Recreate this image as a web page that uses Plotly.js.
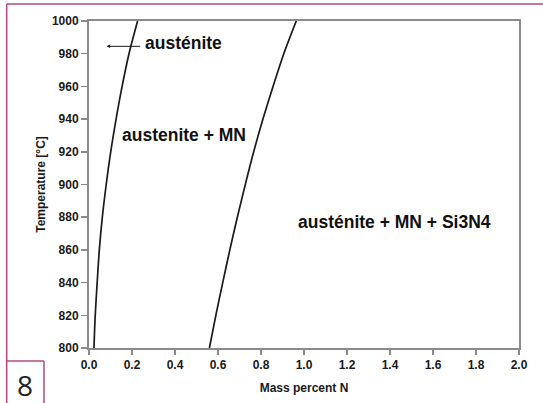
<!DOCTYPE html>
<html>
<head>
<meta charset="utf-8">
<script src="https://cdn.plot.ly/plotly-3.0.1.min.js"></script>
<style>
html,body{margin:0;padding:0;background:#fff;}
#chart{width:543px;height:403px;}
</style>
</head>
<body>
<div id="chart"></div>
<script>
// Temperatures (°C) along each phase boundary
var temperature = [800, 820, 840, 860, 880, 900, 920, 940, 960, 980, 1000];
// Boundary austénite | austenite + MN (mass percent N)
var boundary1 = [0.023, 0.029, 0.038, 0.048, 0.062, 0.080, 0.101, 0.126, 0.154, 0.186, 0.226];
// Boundary austenite + MN | austénite + MN + Si3N4 (mass percent N)
var boundary2 = [0.560, 0.590, 0.622, 0.655, 0.690, 0.727, 0.766, 0.809, 0.856, 0.906, 0.964];

var xTickVals = [0, 0.2, 0.4, 0.6, 0.8, 1.0, 1.2, 1.4, 1.6, 1.8, 2.0];
var yTickVals = [800, 820, 840, 860, 880, 900, 920, 940, 960, 980, 1000];

var W = 543, H = 403;
var L = 89, R = 519, T = 21, B = 348;
function px(x){ return (x - L) / (R - L); }
function py(y){ return (B - y) / (B - T); }

var lineStyle = {color: '#1a1a1a', width: 1.7, shape: 'spline', smoothing: 0.8};
var traces = [
  {x: boundary1, y: temperature, mode: 'lines', line: lineStyle, hoverinfo: 'skip', showlegend: false},
  {x: boundary2, y: temperature, mode: 'lines', line: lineStyle, hoverinfo: 'skip', showlegend: false}
];

var labelFont = {family: 'Liberation Sans, Arial, sans-serif', size: 17.5, color: '#111', weight: 'bold'};
var magenta = '#b4487e';

var layout = {
  width: W, height: H,
  margin: {l: L, r: W - R, t: T, b: H - B, pad: 0},
  paper_bgcolor: '#fff', plot_bgcolor: '#fff',
  showlegend: false,
  font: {family: 'Liberation Sans, Arial, sans-serif', color: '#1a1a1a'},
  xaxis: {
    range: [0, 2], tickvals: xTickVals, tickformat: '.1f',
    showgrid: false, zeroline: false,
    showline: true, mirror: true, linecolor: '#8a8a8a', linewidth: 2,
    ticks: 'outside', ticklen: 5, tickwidth: 1.5, tickcolor: '#8a8a8a',
    tickfont: {size: 12, weight: 'bold', color: '#1a1a1a'},
    title: {text: 'Mass percent N', font: {size: 12, weight: 'bold', color: '#1a1a1a'}, standoff: 12}
  },
  yaxis: {
    range: [800, 1000], tickvals: yTickVals,
    showgrid: false, zeroline: false,
    showline: true, mirror: true, linecolor: '#8a8a8a', linewidth: 2,
    ticks: 'outside', ticklen: 6, tickwidth: 1.5, tickcolor: '#8a8a8a',
    tickfont: {size: 12, weight: 'bold', color: '#1a1a1a'},
    title: {text: 'Temperature [°C]', font: {size: 12, weight: 'bold', color: '#1a1a1a'}, standoff: 4}
  },
  annotations: [
    {x: 0.2526, y: 986.8, xref: 'x', yref: 'y', text: 'austénite', showarrow: false,
     xanchor: 'left', yanchor: 'middle', font: labelFont},
    {x: 0.082, y: 984.5, xref: 'x', yref: 'y', ax: 0.245, ay: 984.5, axref: 'x', ayref: 'y',
     text: '', showarrow: true, arrowhead: 2, arrowsize: 0.7, arrowwidth: 1, arrowcolor: '#1a1a1a'},
    {x: 0.443, y: 930.1, xref: 'x', yref: 'y', text: 'austenite + MN', showarrow: false,
     xanchor: 'center', yanchor: 'middle', font: labelFont},
    {x: 1.419, y: 877.1, xref: 'x', yref: 'y', text: 'austénite + MN + Si3N4', showarrow: false,
     xanchor: 'center', yanchor: 'middle', font: labelFont},
    {x: px(25), y: py(385), xref: 'paper', yref: 'paper', text: '8', showarrow: false,
     xanchor: 'center', yanchor: 'middle',
     font: {family: 'Open Sans, Noto Sans, sans-serif', size: 28, color: '#222'}}
  ],
  shapes: [
    {type: 'line', xref: 'paper', yref: 'paper', x0: px(6.7), x1: px(6.7), y0: py(4), y1: py(410),
     line: {color: magenta, width: 1.5}},
    {type: 'line', xref: 'paper', yref: 'paper', x0: px(6.7), x1: px(560), y0: py(4), y1: py(4),
     line: {color: magenta, width: 1.5}},
    {type: 'line', xref: 'paper', yref: 'paper', x0: px(6.7), x1: px(44), y0: py(361), y1: py(361),
     line: {color: magenta, width: 1.5}},
    {type: 'line', xref: 'paper', yref: 'paper', x0: px(44), x1: px(44), y0: py(361), y1: py(410),
     line: {color: magenta, width: 1.5}}
  ]
};

Plotly.newPlot('chart', traces, layout, {displayModeBar: false, staticPlot: true});
</script>
</body>
</html>
